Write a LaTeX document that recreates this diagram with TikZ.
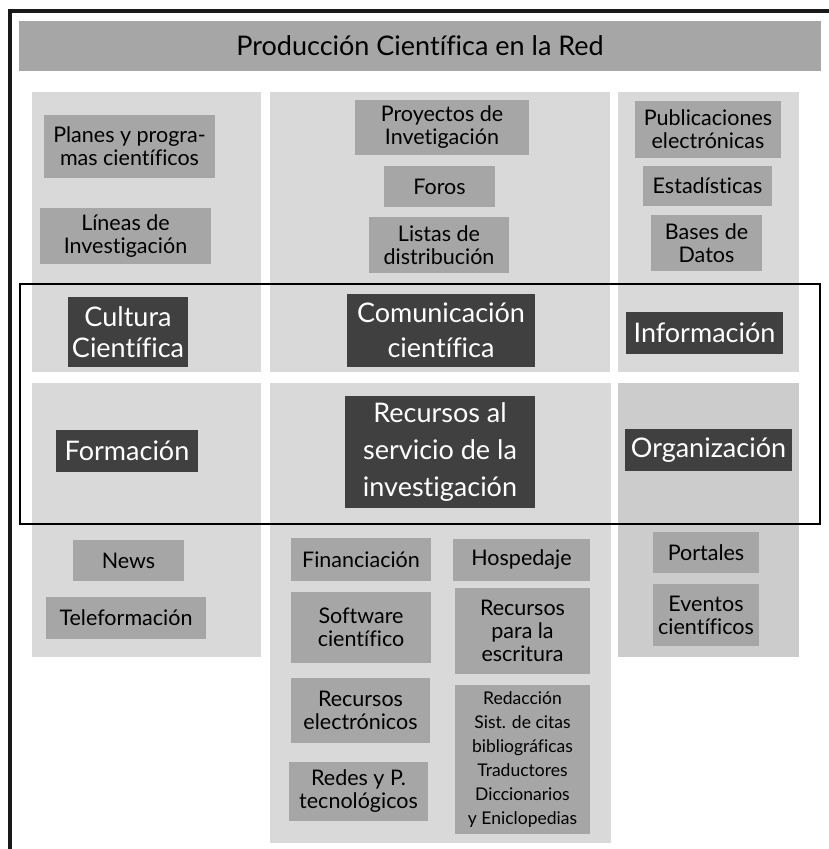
\documentclass[tikz,border=0pt]{standalone}
\usepackage{fontspec}
\setmainfont[Ligatures=NoCommon]{Lato}
\usepackage{tikz}
\usetikzlibrary{positioning}

\definecolor{panelgrey}{HTML}{D9D9D9}
\definecolor{paneldark}{HTML}{CCCCCC}
\definecolor{itemgrey}{HTML}{A6A6A6}
\definecolor{keygrey}{HTML}{404040}

\newcommand{\mytitlefontsize}{\fontsize{27}{30}\selectfont}
\newcommand{\myitemfontsize}{\fontsize{21.5}{23}\selectfont}
\newcommand{\mykeyfontsize}{\fontsize{27}{35}\selectfont}
\newcommand{\mysmallfontsize}{\fontsize{17.5}{24}\selectfont}

\newcommand{\panelnode}[1][]{\node[panel,#1]}
\newcommand{\itemnode}[1][]{\node[itembox,#1]}
\newcommand{\keynode}[1][]{\node[keybox,#1]}

\tikzstyle{panel}=[
    rectangle,
    fill=panelgrey,
    draw=none,
    inner sep=0pt
]
\tikzstyle{itembox}=[
    rectangle,
    fill=itemgrey,
    inner sep=0pt,
    align=center,
    text=black,
    font=\myitemfontsize
]
\tikzstyle{keybox}=[
    rectangle,
    fill=keygrey,
    inner sep=0pt,
    align=center,
    text=white,
    font=\mykeyfontsize
]
\tikzset{wh/.style 2 args={
        minimum width=#1pt,
        minimum height=#2pt
    }
}

\begin{document}
\begin{tikzpicture}[x=1pt,y=-1pt]
    \useasboundingbox (0,0) rectangle (828,849);

    % title
    \itemnode[wh={802}{50},font=\mytitlefontsize] (title) at (420,46) {Producción Científica en la Red};

    % panels
    \panelnode[wh={229}{280}] (leftup) at (146.5,232) {};
    \panelnode[wh={340}{280}] (midup) at (440,232) {};
    \panelnode[wh={181}{280}] (rightup) at (708.5,232) {};
    \panelnode[wh={229}{274}] (leftlow) at (146.5,520) {};
    \panelnode[wh={341}{460}] (midlow) at (440.5,613) {};
    \panelnode[wh={181}{274},fill=paneldark] (rightlow) at (708.5,520) {};

    % upper items
    \itemnode[wh={171}{63}] (planes) at (129.5,146.5) {Planes y progra-\\mas científicos};
    \itemnode[wh={171}{56}] (lineas) at (125.5,236) {Líneas de\\Investigación};
    \itemnode[wh={174}{55}] (proyectos) at (442,127.5) {Proyectos de\\Invetigación};
    \itemnode[wh={111}{41}] (foros) at (439.5,186.5) {Foros};
    \itemnode[wh={140}{56}] (listas) at (439,245) {Listas de\\distribución};
    \itemnode[wh={146}{57}] (publicaciones) at (708,129.5) {Publicaciones\\electrónicas};
    \itemnode[wh={129}{40}] (estadisticas) at (707.5,186) {Estadísticas};
    \itemnode[wh={111}{56}] (bases) at (706.5,243) {Bases de\\Datos};

    % key areas
    \keynode[wh={120}{70},font=\fontsize{27}{31}\selectfont] (cultura) at (128,332) {Cultura\\Científica};
    \keynode[wh={188}{73}] (comunicacion) at (441,330.5) {Comunicación\\científica};
    \keynode[wh={157}{42}] (informacion) at (704.5,333) {Información};
    \keynode[wh={142}{42}] (formacion) at (127,451) {Formación};
    \keynode[wh={190}{112},font=\fontsize{27}{37}\selectfont] (recursos) at (440,452) {Recursos al\\servicio de la\\investigación};
    \keynode[wh={167}{42}] (organizacion) at (708.5,450) {Organización};

    % lower items
    \itemnode[wh={111}{41}] (news) at (128.5,560.5) {News};
    \itemnode[wh={160}{42}] (teleformacion) at (126,618) {Teleformación};
    \itemnode[wh={140}{43}] (financiacion) at (361,559.5) {Financiación};
    \itemnode[wh={137}{42}] (hospedaje) at (521.5,560) {Hospedaje};
    \itemnode[wh={140}{71}] (software) at (361,627.5) {Software\\científico};
    \itemnode[wh={135}{86}] (escritura) at (522.5,631) {Recursos\\para la\\escritura};
    \itemnode[wh={139}{65}] (electronicos) at (360.5,710.5) {Recursos\\electrónicos};
    \itemnode[wh={139}{59}] (redes) at (358.5,791.5) {Redes y P.\\tecnológicos};
    \itemnode[wh={135}{149},font=\mysmallfontsize] (redaccion) at (522.5,759.5) {Redacción\\Sist. de citas\\bibliográficas\\Traductores\\Diccionarios\\y Eniclopedias};
    \itemnode[wh={106}{41}] (portales) at (706,552.5) {Portales};
    \itemnode[wh={106}{62}] (eventos) at (706,615) {Eventos\\científicos};

    % frames
    \node[draw=black,line width=2.8pt,wh={800}{240}] (core) at (420,404) {};
    \coordinate (framebottom) at (10,860);
    \coordinate (framecorner) at (10,11);
    \coordinate (frameright) at (840,11);
    \draw[line width=3.2pt,black!90] (framebottom) -- (framecorner) -- (frameright);
\end{tikzpicture}
\end{document}
